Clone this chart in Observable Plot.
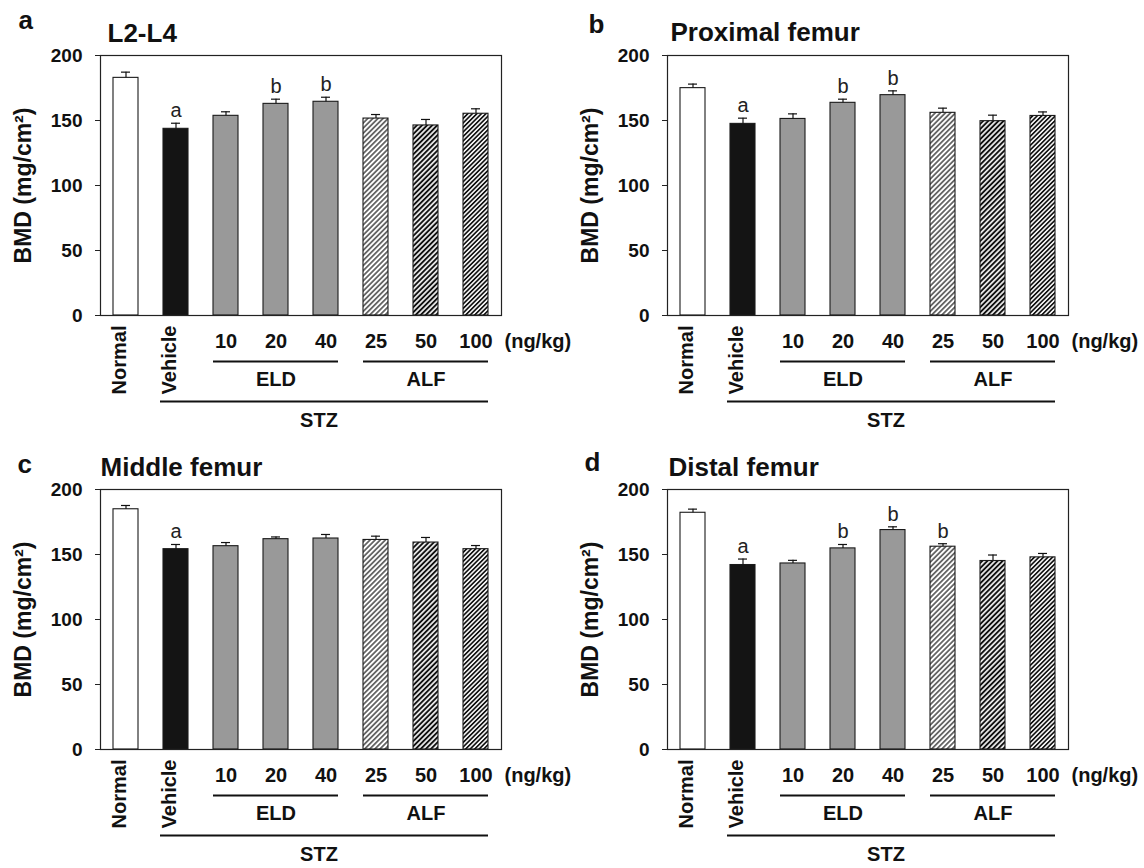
<!DOCTYPE html>
<html><head><meta charset="utf-8">
<script src="https://cdn.jsdelivr.net/npm/d3@7"></script>
<script src="https://cdn.jsdelivr.net/npm/@observablehq/plot@0.6"></script>
<style>
html,body{margin:0;padding:0;background:#fff}
#root{position:relative;width:1144px;height:868px;overflow:hidden;background:#fff}
.panel{position:absolute}
.panel svg{overflow:visible}
</style></head><body>
<svg width="0" height="0" style="position:absolute">
  <defs>
    <pattern id="hatch25" patternUnits="userSpaceOnUse" width="3.6" height="3.6" patternTransform="rotate(45)">
      <rect width="3.6" height="3.6" fill="#fff"/>
      <line x1="1.8" y1="-1" x2="1.8" y2="4.6" stroke="#2a2a2a" stroke-width="1.3"/>
    </pattern>
    <pattern id="hatch50" patternUnits="userSpaceOnUse" width="3.6" height="3.6" patternTransform="rotate(45)">
      <rect width="3.6" height="3.6" fill="#fff"/>
      <line x1="1.8" y1="-1" x2="1.8" y2="4.6" stroke="#111" stroke-width="2.0"/>
    </pattern>
    <pattern id="hatch100" patternUnits="userSpaceOnUse" width="3.2" height="3.2" patternTransform="rotate(45)">
      <rect width="3.2" height="3.2" fill="#fff"/>
      <line x1="1.6" y1="-1" x2="1.6" y2="4.2" stroke="#111" stroke-width="1.7"/>
    </pattern>
  </defs>
</svg>
<div id="root"></div>
<script>
// ---------- data ----------
const groupKeys = ["Normal","Vehicle","ELD10","ELD20","ELD40","ALF25","ALF50","ALF100"];
const rotatedLabels = ["Normal","Vehicle","","","","","",""];
const doseLabels = ["","","10","20","40","25","50","100"];
const yTicks = [0,50,100,150,200];
const panelLetters = ["a","b","c","d"];
const panelTitles = ["L2-L4","Proximal femur","Middle femur","Distal femur"];
const yLabel = "BMD (mg/cm²)";
const doseUnit = "(ng/kg)";
const spanNames = ["ELD","ALF"];
const spanFrom = ["ELD10","ALF25"];
const spanTo = ["ELD40","ALF100"];
const spanCenter = ["ELD20","ALF50"];
const outerName = "STZ";

// panel a: L2-L4
const meanA = [182.8,143.6,153.6,162.8,164.4,151.5,146.2,155.2];
const semA  = [4.4,4.3,3.1,3.6,3.5,3.1,4.6,3.8];
const sigA  = ["","a","","b","b","","",""];
// panel b: Proximal femur
const meanB = [174.9,147.4,151.2,163.6,169.5,155.9,149.5,153.5];
const semB  = [3.1,4.4,3.9,2.8,3.3,3.6,4.6,3.1];
const sigB  = ["","a","","b","b","","",""];
// panel c: Middle femur
const meanC = [184.8,154.1,156.4,161.8,162.3,161.2,159.2,154.1];
const semC  = [2.9,3.6,2.8,1.7,3.1,2.9,3.9,2.8];
const sigC  = ["","a","","","","","",""];
// panel d: Distal femur
const meanD = [182.1,141.9,143.1,154.7,168.8,156.0,145.0,147.8];
const semD  = [2.8,4.6,2.4,3.0,2.5,2.3,4.6,3.0];
const sigD  = ["","a","","b","b","b","",""];

// ---------- styles / layout ----------
const FONT = "'Liberation Sans', Arial, Helvetica, sans-serif";
const INK = "#111";
const fillOf = {
  Normal: "#ffffff", Vehicle: "#141414",
  ELD10: "#999999", ELD20: "#999999", ELD40: "#999999",
  ALF25: "url(#hatch25)", ALF50: "url(#hatch50)", ALF100: "url(#hatch100)"
};
const layouts = [
  {left: 0,   top: 0,   letterDx: -82, letterDy: -27, titleDx: 7, titleDy: -14},
  {left: 567, top: 0,   letterDx: -79, letterDy: -23, titleDx: 3, titleDy: -15},
  {left: 0,   top: 434, letterDx: -83, letterDy: -17, titleDx: 0, titleDy: -14},
  {left: 567, top: 434, letterDx: -83, letterDy: -19, titleDx: 1, titleDy: -14}
];
const panelData = [[meanA,semA,sigA],[meanB,semB,sigB],[meanC,semC,sigC],[meanD,semD,sigD]];

function makePanel(p) {
  const [means, sems, sigs] = panelData[p];
  const L = layouts[p];
  const rows = groupKeys.map((k, i) => ({
    key: k, mean: means[i], top: means[i] + sems[i], sig: sigs[i],
    rot: rotatedLabels[i], dose: doseLabels[i]
  }));
  const spans = spanNames.map((n, i) => ({name: n, from: spanFrom[i], to: spanTo[i], center: spanCenter[i]}));
  const bold = {fontWeight: "bold", fill: INK};

  const marks = [];
  for (const k of groupKeys) {
    marks.push(Plot.barY(rows, {filter: d => d.key === k, x: "key", y: "mean",
      fill: fillOf[k], stroke: "#1a1a1a", strokeWidth: 1.1}));
  }
  marks.push(
    Plot.ruleX(rows, {x: "key", y1: "mean", y2: "top", stroke: INK, strokeWidth: 1.2}),
    Plot.tickY(rows, {x: "key", y: "top", insetLeft: 8, insetRight: 8, stroke: INK, strokeWidth: 1.2}),
    Plot.text(rows.filter(d => d.sig), {x: "key", y: "top", text: "sig", dy: -6, lineAnchor: "bottom",
      fontSize: 20, fill: "#222"}),
    Plot.frame({stroke: "#222", strokeWidth: 1.2}),
    Plot.axisY(yTicks, {tickSize: 5, tickPadding: 13, fontSize: 19, fontWeight: "bold", label: null, stroke: "#222"}),
    // y label
    Plot.text([yLabel], {frameAnchor: "left", dx: -77, rotate: -90, textAnchor: "middle",
      lineAnchor: "middle", fontSize: 23, ...bold}),
    // panel letter and title
    Plot.text([panelLetters[p]], {frameAnchor: "top-left", dx: L.letterDx, dy: L.letterDy,
      textAnchor: "start", lineAnchor: "bottom", fontSize: 26, ...bold}),
    Plot.text([panelTitles[p]], {frameAnchor: "top-left", dx: L.titleDx, dy: L.titleDy,
      textAnchor: "start", lineAnchor: "bottom", fontSize: 26, ...bold}),
    // category labels
    Plot.text(rows.filter(d => d.rot), {x: "key", text: "rot", frameAnchor: "bottom", dy: 10,
      rotate: -90, textAnchor: "end", fontSize: 20, ...bold}),
    Plot.text(rows.filter(d => d.dose), {x: "key", text: "dose", frameAnchor: "bottom", dy: 32,
      fontSize: 20, ...bold}),
    Plot.text([doseUnit], {frameAnchor: "bottom-right", dx: 3, dy: 32, textAnchor: "start",
      fontSize: 20, ...bold}),
    // group brackets
    Plot.ruleY(spans, {x1: "from", x2: "to", y: () => 0, dy: 46, stroke: INK, strokeWidth: 2}),
    Plot.text(spans, {x: "center", text: "name", frameAnchor: "bottom", dy: 70, fontSize: 20, ...bold}),
    Plot.ruleY([outerName], {x1: () => "Vehicle", x2: () => "ALF100", y: () => 0, dy: 86,
      insetLeft: -3, stroke: INK, strokeWidth: 2}),
    Plot.text([outerName], {x: () => "ELD40", frameAnchor: "bottom", dx: -7, dy: 111, fontSize: 20, ...bold})
  );

  const chart = Plot.plot({
    width: 572, height: 434,
    marginLeft: 100, marginRight: 71, marginTop: 55, marginBottom: 119,
    style: {fontFamily: FONT, color: INK, background: "transparent", overflow: "visible"},
    x: {type: "band", domain: groupKeys, paddingInner: 0.5, paddingOuter: 0.25, axis: null},
    y: {domain: [0, 200]},
    marks
  });
  const div = document.createElement("div");
  div.className = "panel";
  div.style.left = L.left + "px";
  div.style.top = L.top + "px";
  div.appendChild(chart);
  document.getElementById("root").appendChild(div);
}
for (let p = 0; p < 4; p++) makePanel(p);
</script>
</body></html>
